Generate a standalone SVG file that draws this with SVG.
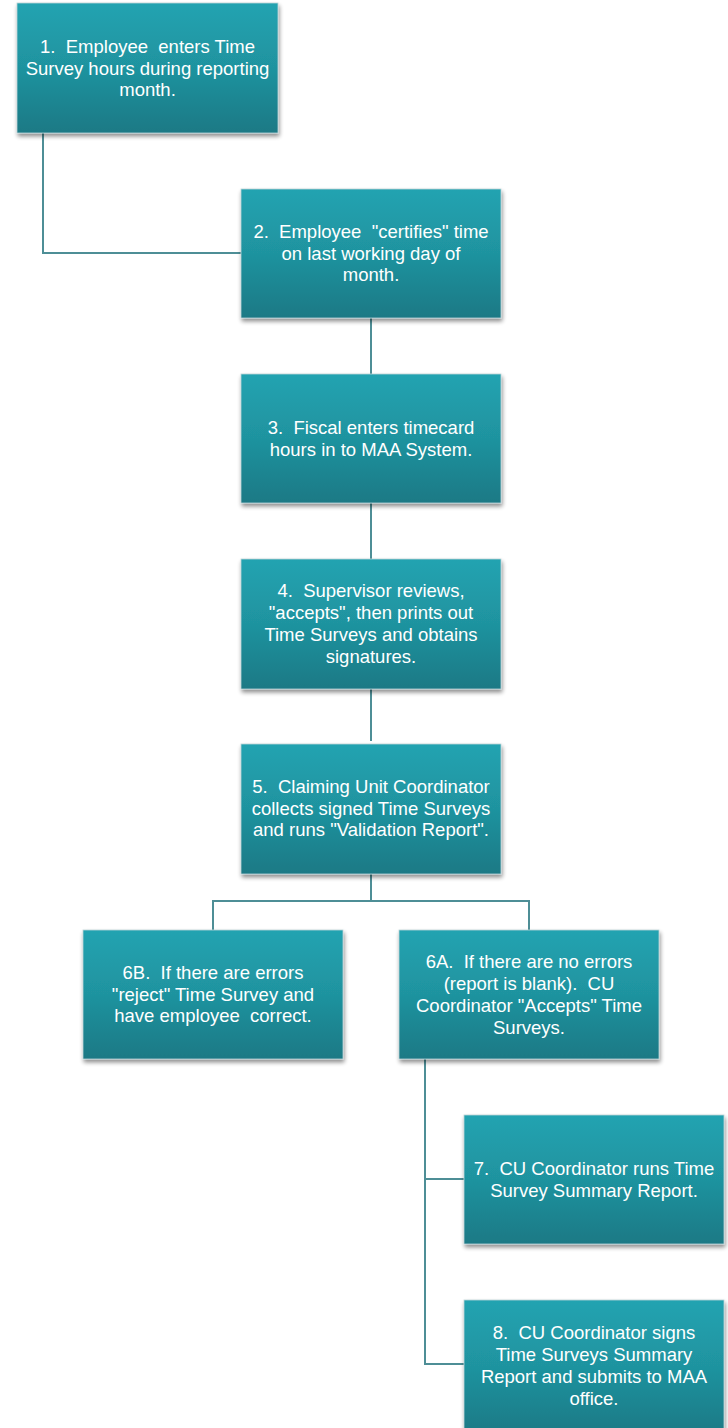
<svg xmlns="http://www.w3.org/2000/svg" width="728" height="1428" viewBox="0 0 728 1428">
<defs>
<linearGradient id="g" x1="0" y1="0" x2="0" y2="1">
<stop offset="0" stop-color="#23a3b1"/>
<stop offset="0.5" stop-color="#1f939f"/>
<stop offset="1" stop-color="#1a7985"/>
</linearGradient>
<filter id="sh" x="-10%" y="-10%" width="125%" height="130%">
<feGaussianBlur in="SourceAlpha" stdDeviation="2"/>
<feOffset dx="1" dy="3"/>
<feComponentTransfer><feFuncA type="linear" slope="0.45"/></feComponentTransfer>
<feMerge><feMergeNode/><feMergeNode in="SourceGraphic"/></feMerge>
</filter>
<style>
.box{fill:url(#g);stroke:#bcd3d6;stroke-width:0.8;filter:url(#sh)}
.t{font-family:"Liberation Sans",Arial,sans-serif;font-size:18.5px;fill:#ffffff;text-anchor:middle;white-space:pre}
.c{fill:none;stroke:#4e8e96;stroke-width:2}
</style>
</defs>
<rect width="728" height="1428" fill="#ffffff"/>
<g id="connectors">
<path class="c" d="M43 133 V253 H241"/>
<path class="c" d="M371 318 V374"/>
<path class="c" d="M371 503 V559"/>
<path class="c" d="M371 689 V741"/>
<path class="c" d="M371 874 V901 M213 930 V901 H529 V930"/>
<path class="c" d="M425 1059 V1364 H464 M425 1179 H464"/>
</g>
<g id="n1"><rect class="box" x="17" y="3" width="261" height="130"/>
<text class="t" xml:space="preserve"><tspan x="147.5" y="53">1.  Employee  enters Time</tspan><tspan x="147.5" y="75">Survey hours during reporting</tspan><tspan x="147.5" y="96">month.</tspan></text></g>
<g id="n2"><rect class="box" x="241" y="189" width="260" height="129"/>
<text class="t" xml:space="preserve"><tspan x="371" y="238">2.  Employee  "certifies" time</tspan><tspan x="371" y="260">on last working day of</tspan><tspan x="371" y="281">month.</tspan></text></g>
<g id="n3"><rect class="box" x="241" y="374" width="260" height="129"/>
<text class="t" xml:space="preserve"><tspan x="371" y="434">3.  Fiscal enters timecard</tspan><tspan x="371" y="456">hours in to MAA System.</tspan></text></g>
<g id="n4"><rect class="box" x="241" y="559" width="260" height="130"/>
<text class="t" xml:space="preserve"><tspan x="371" y="597">4.  Supervisor reviews,</tspan><tspan x="371" y="619">"accepts", then prints out</tspan><tspan x="371" y="641">Time Surveys and obtains</tspan><tspan x="371" y="663">signatures.</tspan></text></g>
<g id="n5"><rect class="box" x="241" y="744" width="260" height="130"/>
<text class="t" xml:space="preserve"><tspan x="371" y="793">5.  Claiming Unit Coordinator</tspan><tspan x="371" y="815">collects signed Time Surveys</tspan><tspan x="371" y="836">and runs "Validation Report".</tspan></text></g>
<g id="n6b"><rect class="box" x="83" y="930" width="260" height="129"/>
<text class="t" xml:space="preserve"><tspan x="213" y="979">6B.  If there are errors</tspan><tspan x="213" y="1001">"reject" Time Survey and</tspan><tspan x="213" y="1022">have employee  correct.</tspan></text></g>
<g id="n6a"><rect class="box" x="399" y="930" width="260" height="129"/>
<text class="t" xml:space="preserve"><tspan x="529" y="968">6A.  If there are no errors</tspan><tspan x="529" y="990">(report is blank).  CU</tspan><tspan x="529" y="1012">Coordinator "Accepts" Time</tspan><tspan x="529" y="1034">Surveys.</tspan></text></g>
<g id="n7"><rect class="box" x="464" y="1115" width="260" height="129"/>
<text class="t" xml:space="preserve"><tspan x="594" y="1175">7.  CU Coordinator runs Time</tspan><tspan x="594" y="1197">Survey Summary Report.</tspan></text></g>
<g id="n8"><rect class="box" x="464" y="1300" width="260" height="135"/>
<text class="t" xml:space="preserve"><tspan x="594" y="1339">8.  CU Coordinator signs</tspan><tspan x="594" y="1361">Time Surveys Summary</tspan><tspan x="594" y="1383">Report and submits to MAA</tspan><tspan x="594" y="1405">office.</tspan></text></g>
</svg>
